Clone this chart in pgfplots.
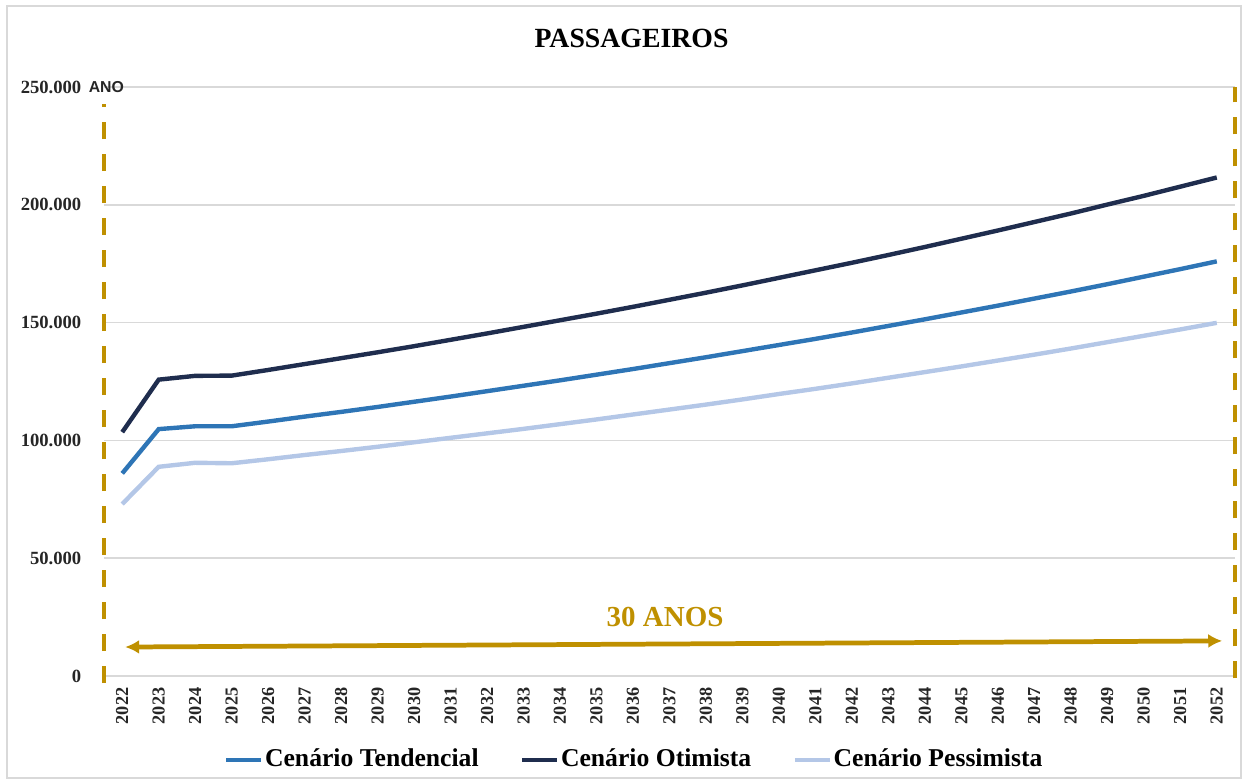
\documentclass[border=0pt]{standalone}
\usepackage{pgfplots}
\pgfplotsset{compat=1.18}
\usetikzlibrary{arrows.meta}
\usepackage{fontspec}
\setmainfont{Liberation Serif}
\newfontfamily\arialfont{Liberation Sans}
\definecolor{cTend}{HTML}{2E75B6}
\definecolor{cOtim}{HTML}{1F2D4E}
\definecolor{cPess}{HTML}{B4C7E7}
\definecolor{gold}{HTML}{BF9000}
\definecolor{gridc}{HTML}{D9D9D9}

\pgfplotstableread{
ano tend otim pess
2022 86000 103500 73000
2023 104800 125800 88800
2024 106000 127400 90500
2025 106000 127500 90300
2026 108000 129900 92000
2027 110100 132400 93800
2028 112100 134900 95500
2029 114200 137400 97300
2030 116400 140000 99200
2031 118600 142700 101100
2032 120900 145400 103000
2033 123200 148200 104900
2034 125500 151000 106900
2035 127900 153800 108900
2036 130300 156700 111000
2037 132800 159700 113100
2038 135300 162700 115200
2039 137900 165800 117400
2040 140500 169000 119700
2041 143100 172200 121900
2042 145800 175400 124200
2043 148600 178700 126600
2044 151400 182100 129000
2045 154300 185600 131400
2046 157200 189100 133900
2047 160200 192700 136400
2048 163200 196300 139000
2049 166300 200100 141700
2050 169500 203800 144400
2051 172700 207700 147100
2052 176000 211600 149900
}\datatable

\begin{document}
\begin{tikzpicture}[x=1cm,y=1cm]
\useasboundingbox (0,0) rectangle (12.45,7.82);
\draw[gridc, line width=0.5pt] (0.07,0.04) rectangle (12.41,7.76);
\node[font=\fontsize{7.9}{9}\selectfont\bfseries, inner sep=0pt] at (6.315,7.44) {PASSAGEIROS};
\begin{axis}[
  at={(1.04cm,1.06cm)}, anchor=south west,
  scale only axis, width=11.31cm, height=5.89cm,
  xmin=2021.5, xmax=2052.5, ymin=0, ymax=250000,
  clip=false,
  axis line style={draw=none},
  tick style={draw=none},
  ymajorgrids, major grid style={gridc, line width=0.45pt},
  xtick={2022,...,2052},
  ytick={0,50000,...,250000},
  scaled y ticks=false,
  xticklabel={\pgfmathprintnumber[fixed,precision=0,1000 sep={},assume math mode=true]{\tick}},
  yticklabel={\pgfmathprintnumber[fixed,precision=0,1000 sep={.},assume math mode=true]{\tick}},
  xticklabel style={rotate=90, anchor=east, inner sep=0pt, font=\fontsize{5.2}{6}\selectfont\bfseries, text=black!85},
  yticklabel style={anchor=east, inner sep=0pt, font=\fontsize{5.3}{6}\selectfont\bfseries, text=black!85},
  xticklabel shift={1.1mm},
  yticklabel shift={2.2mm},
  legend columns=3,
  legend style={at={(axis description cs:0.4686,-0.1426)}, anchor=center, draw=none, fill=none,
    font=\fontsize{7.3}{9}\selectfont\bfseries,
    /tikz/every even column/.append style={column sep=4mm},
    nodes={inner xsep=0.4pt, inner ysep=1pt}},
  legend image code/.code={\draw[#1, line width=1.3pt] (0mm,0mm) -- (3.5mm,0mm);},
]
\addplot[cTend, line width=1.25pt] table[x=ano, y=tend] {\datatable};
\addlegendentry{Cenário Tendencial}
\addplot[cOtim, line width=1.25pt] table[x=ano, y=otim] {\datatable};
\addlegendentry{Cenário Otimista}
\addplot[cPess, line width=1.25pt] table[x=ano, y=pess] {\datatable};
\addlegendentry{Cenário Pessimista}

\draw[gold, line width=1.4pt, dash pattern=on 1.7mm off 1.5mm] (axis cs:2021.5,-3000) -- (axis cs:2021.5,243000);
\draw[gold, line width=1.4pt, dash pattern=on 1.7mm off 1.5mm] (axis cs:2052.5,-1000) -- (axis cs:2052.5,250000);
\draw[gold, line width=1.35pt, {Latex[length=1.4mm,width=1.4mm]}-{Latex[length=1.4mm,width=1.4mm]}] (axis cs:2022.08,12300) -- (axis cs:2052.15,14900);
\node[gold, font=\fontsize{8.25}{10}\selectfont\bfseries, inner sep=0pt] at (axis cs:2036.88,25000) {30 ANOS};
\node[anchor=west, inner sep=0pt, font=\arialfont\fontsize{4.5}{5}\selectfont\bfseries, text=black!85] at (axis description cs:-0.0141,1) {ANO};
\end{axis}
\end{tikzpicture}
\end{document}
